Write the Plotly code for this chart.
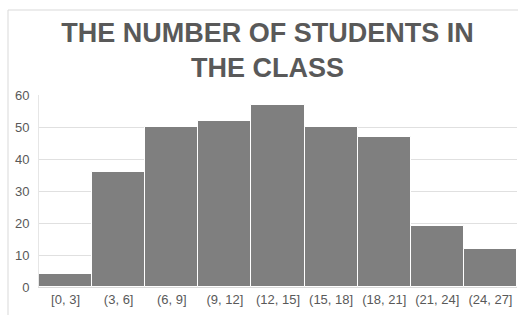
import plotly.graph_objects as go

categories = ["[0, 3]", "(3, 6]", "(6, 9]", "(9, 12]", "(12, 15]", "(15, 18]", "(18, 21]", "(21, 24]", "(24, 27]"]
students = [4, 36, 50, 52, 57, 50, 47, 19, 12]
y_ticks = [0, 10, 20, 30, 40, 50, 60]

fig = go.Figure(go.Bar(
    x=categories, y=students,
    marker=dict(color="#7f7f7f", line=dict(color="#ffffff", width=1)),
))

W, H = 518, 315
L, R, T, B = 39, 1, 95, 28
pw, ph = W - L - R, H - T - B

fig.update_layout(
    width=W, height=H,
    paper_bgcolor="white", plot_bgcolor="white",
    margin=dict(l=L, r=R, t=T, b=B),
    bargap=0,
    showlegend=False,
    font=dict(family="Liberation Sans, Arial, sans-serif", color="#595959", size=13),
    title=dict(
        text="<b>THE NUMBER OF STUDENTS IN<br>THE CLASS</b>",
        font=dict(size=27, color="#595959", family="Liberation Sans, Arial, sans-serif"),
        x=267.5 / W, xanchor="center", xref="container",
        y=1 - 42 / H, yanchor="top", yref="container",
    ),
    xaxis=dict(showgrid=False, showline=True, linecolor="#d9d9d9", linewidth=1,
               tickfont=dict(size=13, color="#595959"), ticks=""),
    yaxis=dict(range=[0, 60], tickvals=y_ticks, showgrid=True, gridcolor="#e0e0e0",
               gridwidth=1, zeroline=False, showline=True, linecolor="#e6e6e6", ticks="",
               tickfont=dict(size=13, color="#595959"), ticklabelstandoff=6),
    shapes=[dict(type="rect", xref="paper", yref="paper", layer="below",
                 x0=(8 - L) / pw, x1=1.2, y0=-0.5, y1=(H - B - 10) / ph,
                 line=dict(color="#d9d9d9", width=1), fillcolor="rgba(0,0,0,0)")],
)

fig.write_html("out.html", config={"displayModeBar": False},
               post_script="document.body.style.margin='0';")
